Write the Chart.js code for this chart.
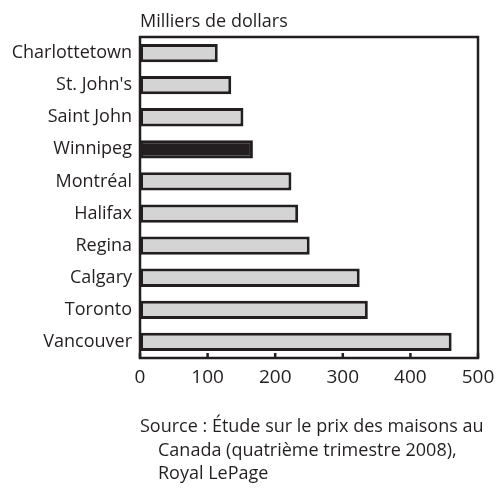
<!DOCTYPE html>
<html lang="fr">
<head>
    <meta charset="UTF-8">
    <title>Prix des maisons</title>
    <script src="https://cdn.jsdelivr.net/npm/chart.js"></script>
    <style>
        html, body { margin: 0; padding: 0; background: #fff; }
        #wrap { width: 496px; height: 493px; position: relative; }
    </style>
</head>
<body>
    <div id="wrap"><canvas id="priceChart"></canvas></div>

    <script>
        // data (thousands of dollars)
        const cities = ['Charlottetown', "St. John's", 'Saint John', 'Winnipeg', 'Montréal',
                        'Halifax', 'Regina', 'Calgary', 'Toronto', 'Vancouver'];
        const prices = [115, 135, 153, 167, 224, 234, 251, 325, 337, 461];
        const highlighted = 'Winnipeg';
        const xTicks = [0, 100, 200, 300, 400, 500];
        const unitLabel = 'Milliers de dollars';
        const sourceLines = ['Source : Étude sur le prix des maisons au',
                             'Canada (quatrième trimestre 2008),',
                             'Royal LePage'];

        const FONT = '"Open Sans", "Noto Sans", sans-serif';
        const INK = '#231f20';

        // frame, inward ticks, unit label and source note
        const decorations = {
            id: 'decorations',
            afterDatasetsDraw(chart) {
                const { ctx, chartArea: a } = chart;
                const x = chart.scales.x;
                ctx.save();
                ctx.strokeStyle = INK;
                ctx.lineWidth = 2.5;
                ctx.strokeRect(a.left, a.top, a.right - a.left, a.bottom - a.top);
                ctx.beginPath();
                xTicks.forEach(v => {
                    const px = x.getPixelForValue(v);
                    ctx.moveTo(px, a.bottom);
                    ctx.lineTo(px, a.bottom - 5);
                });
                ctx.stroke();

                ctx.fillStyle = INK;
                ctx.font = '18px ' + FONT;
                ctx.textBaseline = 'alphabetic';
                ctx.textAlign = 'left';
                ctx.fillText(unitLabel, a.left, a.top - 10);

                ctx.fillText(sourceLines[0], 140, 432);
                ctx.fillText(sourceLines[1], 158, 456);
                ctx.fillText(sourceLines[2], 158, 479);
                ctx.restore();
            }
        };

        const ctx = document.getElementById('priceChart').getContext('2d');
        new Chart(ctx, {
            type: 'bar',
            data: {
                labels: cities,
                datasets: [{
                    data: prices,
                    backgroundColor: cities.map(c => c === highlighted ? INK : '#d4d4d4'),
                    borderColor: INK,
                    borderWidth: 3,
                    borderSkipped: false,
                    barPercentage: 0.57,
                    categoryPercentage: 1
                }]
            },
            options: {
                indexAxis: 'y',
                responsive: true,
                maintainAspectRatio: false,
                animation: false,
                layout: { padding: { top: 37, right: 18, left: 0, bottom: 0 } },
                plugins: {
                    legend: { display: false },
                    tooltip: { enabled: false }
                },
                scales: {
                    x: {
                        min: 0,
                        max: 500,
                        afterBuildTicks: s => { s.ticks = xTicks.map(v => ({ value: v })); },
                        afterFit: s => { s.height = 135; s.paddingLeft = 0; s.paddingRight = 0; },
                        grid: { display: false, drawTicks: false },
                        border: { display: false },
                        ticks: {
                            color: INK,
                            font: { family: FONT, size: 19 },
                            padding: 8,
                            maxRotation: 0
                        }
                    },
                    y: {
                        afterFit: s => { s.width = 140; s.paddingTop = 0; s.paddingBottom = 0; },
                        grid: { display: false, drawTicks: false },
                        border: { display: false },
                        ticks: {
                            color: INK,
                            font: { family: FONT, size: 18 },
                            padding: 8
                        }
                    }
                }
            },
            plugins: [decorations]
        });
    </script>
</body>
</html>
